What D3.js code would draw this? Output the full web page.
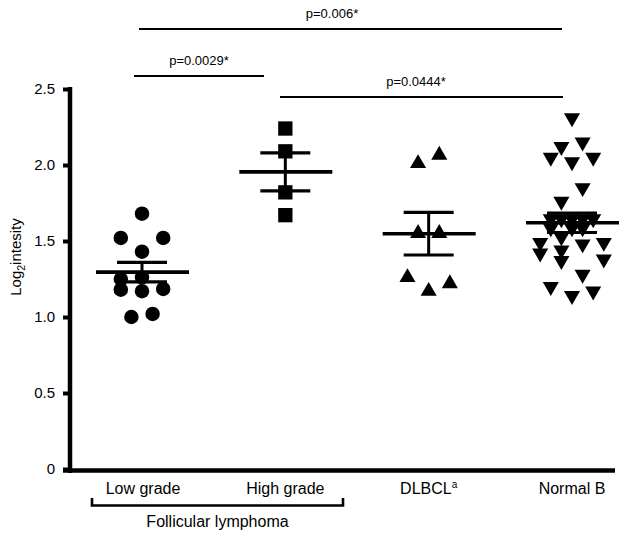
<!DOCTYPE html>
<html><head><meta charset="utf-8">
<script src="https://cdn.jsdelivr.net/npm/d3@7"></script>
<style>body{margin:0;background:#fff}svg{display:block}text{font-family:"Liberation Sans",Arial,sans-serif;fill:#000}</style>
</head><body><svg id="c" width="629" height="542"></svg>
<script>
// ---- data ----
const categories = ["Low grade","High grade","DLBCL","Normal B"];
const shapes = ["circle","square","triangleUp","triangleDown"];
const yTicks = [0,0.5,1.0,1.5,2.0,2.5];
const yTickLabels = ["0","0.5","1.0","1.5","2.0","2.5"];
// values and swarm slot (column index) per point
const lowGradeValues = [1.68,1.52,1.52,1.43,1.25,1.26,1.18,1.17,1.185,1.00,1.02];
const lowGradeSlots  = [0,-2,2,0,-2,0,-2,0,2,-1,1];
const highGradeValues = [2.24,2.09,1.82,1.67];
const highGradeSlots  = [0,0,0,0];
const dlbclValues = [2.01,2.065,1.55,1.55,1.26,1.17,1.22];
const dlbclSlots  = [-1,1,-1,1,-2,0,2];
const normalBValues = [2.31,2.15,2.12,2.05,2.02,2.05,1.85,1.76,
  1.645,1.645,1.645,1.645,1.645,1.585,1.585,1.585,
  1.526,1.49,1.42,1.44,1.37,1.48,1.49,1.38,1.28,1.20,1.14,1.17];
const normalBSlots = [0,1,-1,-2,0,2,1,-1,
  -2,-1,0,1,2,-2,0,1,
  -1,-3,-3,-1,-1,1,3,3,1,-2,0,2];
const means = [1.295,1.955,1.548,1.62];
const sems  = [0.064,0.125,0.14,0.064];
const comparisons = [
  {from:"Low grade", to:"Normal B", label:"p=0.006*"},
  {from:"Low grade", to:"High grade", label:"p=0.0029*"},
  {from:"High grade", to:"Normal B", label:"p=0.0444*"}
];
const groupLabel = "Follicular lymphoma";

// ---- drawing ----
const svg = d3.select("#c");
const x = d3.scalePoint().domain(categories).range([142,572]);
const y = d3.scaleLinear().domain([0,2.5]).range([469,89]);
const slotW = 10.6;

const groups = [
  {v:lowGradeValues,s:lowGradeSlots},
  {v:highGradeValues,s:highGradeSlots},
  {v:dlbclValues,s:dlbclSlots},
  {v:normalBValues,s:normalBSlots}
];

// y axis
const yAxis = d3.axisLeft(y).tickValues(yTicks).tickFormat((d,i)=>yTickLabels[i]).tickSize(7).tickPadding(8);
const ga = svg.append("g").attr("transform","translate(70,0)").call(yAxis);
ga.select(".domain").remove();
ga.selectAll(".tick line").attr("stroke","#000").attr("stroke-width",4);
ga.selectAll(".tick text").style("font-size","15px").attr("fill","#000").style("font-family","'Liberation Sans',Arial,sans-serif");
svg.append("line").attr("x1",70).attr("x2",70).attr("y1",y(2.5)-2).attr("y2",y(0)+4).attr("stroke","#000").attr("stroke-width",4.5);
// x axis
svg.append("line").attr("x1",63).attr("x2",615).attr("y1",y(0)+1.5).attr("y2",y(0)+1.5).attr("stroke","#000").attr("stroke-width",4.5);

// y title
const yt = svg.append("text").attr("transform","translate(21,257) rotate(-90)").attr("text-anchor","middle").style("font-size","15px");
yt.append("tspan").text("Log");
yt.append("tspan").text("2").style("font-size","10.5px").attr("dy",4);
yt.append("tspan").text("intesity").attr("dy",-4);

// category labels
categories.forEach((c,i)=>{
  const t = svg.append("text").attr("x",x(c)+(i===0?1:0)).attr("y",494).attr("text-anchor","middle").style("font-size","16px");
  if(c==="DLBCL"){
    t.append("tspan").text("DLBCL");
    t.append("tspan").text("a").style("font-size","10px").attr("dy",-6);
  } else t.text(c);
});
// bracket
const bx1 = 92, bx2 = 343;
svg.append("path").attr("d",`M${bx1},498V505.5H${bx2}V498`).attr("fill","none").attr("stroke","#000").attr("stroke-width",2.6);
svg.append("text").attr("x",(bx1+bx2)/2).attr("y",527).attr("text-anchor","middle").style("font-size","16px").text(groupLabel);

// mean & SEM
categories.forEach((c,i)=>{
  const cx = x(c), m = means[i], s = sems[i];
  const g = svg.append("g").attr("stroke","#000");
  g.append("line").attr("x1",cx).attr("x2",cx).attr("y1",y(m+s)).attr("y2",y(m-s)).attr("stroke-width",3);
  g.append("line").attr("x1",cx-25).attr("x2",cx+25).attr("y1",y(m+s)).attr("y2",y(m+s)).attr("stroke-width",3.2);
  g.append("line").attr("x1",cx-25).attr("x2",cx+25).attr("y1",y(m-s)).attr("y2",y(m-s)).attr("stroke-width",3.2);
  g.append("line").attr("x1",cx-46).attr("x2",cx+47).attr("y1",y(m)).attr("y2",y(m)).attr("stroke-width",3.6);
});

// points
const symType = {circle:d3.symbolCircle, square:d3.symbolSquare, triangleUp:d3.symbolTriangle, triangleDown:d3.symbolTriangle};
const symSize = {circle:165, square:205, triangleUp:112, triangleDown:112};
groups.forEach((gr,i)=>{
  const shp = shapes[i];
  const pts = gr.v.map((v,j)=>({v, s:gr.s[j]}));
  svg.append("g").selectAll("path").data(pts).join("path")
    .attr("d", d3.symbol().type(symType[shp]).size(symSize[shp]))
    .attr("transform", d=>`translate(${x(categories[i])+d.s*slotW},${y(d.v)})${shp==="triangleDown"?" rotate(180)":""}`)
    .attr("fill","#000");
});

// significance bars
const compY = [29,76,97];
const compEnds = [[139,562],[134,264],[280,563]];
comparisons.forEach((cp,i)=>{
  const x1 = compEnds[i][0], x2 = compEnds[i][1];
  svg.append("line").attr("x1",x1).attr("x2",x2).attr("y1",compY[i]).attr("y2",compY[i]).attr("stroke","#000").attr("stroke-width",1.8);
});
const compTextX = [332,199,416];
comparisons.forEach((cp,i)=>{
  svg.append("text").attr("x",compTextX[i]).attr("y",compY[i]-11).attr("text-anchor","middle").style("font-size","13px").text(cp.label);
});
</script></body></html>
